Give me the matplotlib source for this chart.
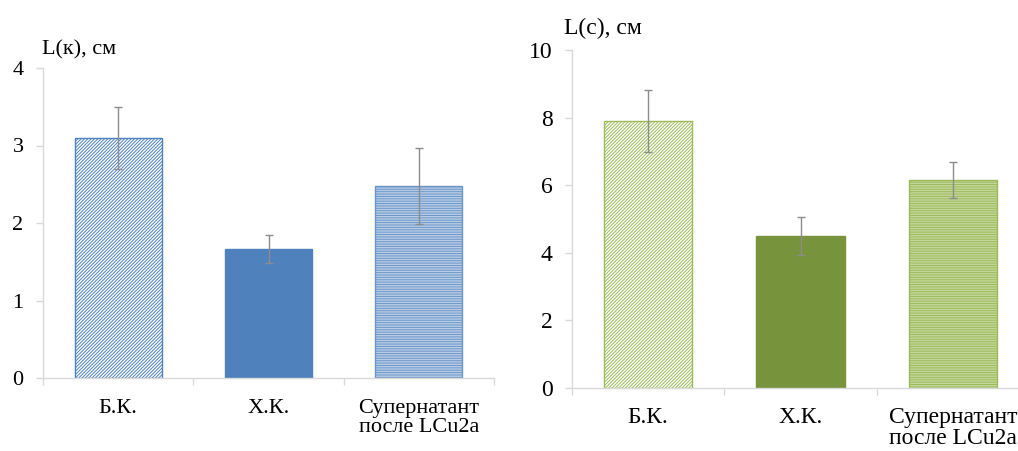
import matplotlib
matplotlib.use("Agg")
import matplotlib.pyplot as plt
import numpy as np

categories = ["Б.К.", "Х.К.", "Супернатант\nпосле LCu2a"]
left_values = [3.1, 1.66, 2.48]
left_errors = [0.40, 0.18, 0.49]
right_values = [7.9, 4.5, 6.15]
right_errors = [0.92, 0.56, 0.53]
left_ticks = [0, 1, 2, 3, 4]
right_ticks = [0, 2, 4, 6, 8, 10]

plt.rcParams['font.family'] = ['Liberation Serif', 'DejaVu Serif']
plt.rcParams['hatch.linewidth'] = 0.7

fig = plt.figure(figsize=(10.18, 4.51), dpi=100)
axL = fig.add_axes([43/1018, 1-378/451, (494-43)/1018, (378-68)/451])
axR = fig.add_axes([572/1018, 1-388/451, (1029-572)/1018, (388-50)/451])

spine_col = "#d9d9d9"

def style(ax, ticks, ymax, fs, pad_x):
    x = np.arange(len(categories))
    ax.set_xlim(-0.5, len(categories) - 0.5)
    ax.set_ylim(0, ymax)
    ax.set_yticks(ticks)
    ax.set_xticks(x)
    ax.set_xticklabels(categories, fontsize=fs, linespacing=1.0)
    ax.set_xticks(np.arange(-0.5, len(categories)), minor=True)
    ax.tick_params(axis='x', which='major', length=0, pad=pad_x)
    ax.tick_params(axis='x', which='minor', length=5, color=spine_col, width=1)
    ax.tick_params(axis='y', length=5, color=spine_col, width=1, labelsize=fs, pad=9)
    for s in ['top', 'right']:
        ax.spines[s].set_visible(False)
    for s in ['left', 'bottom']:
        ax.spines[s].set_color(spine_col)
        ax.spines[s].set_linewidth(1)

# Left chart (blue)
xL = np.arange(len(categories))
styles_L = [
    dict(facecolor="white", edgecolor="#4f81bd", hatch="//////////"),
    dict(facecolor="#4f81bd", edgecolor="#4f81bd", hatch=None),
    dict(facecolor="#b9cde5", edgecolor="#6a95c9", hatch="-------"),
]
for i in range(len(categories)):
    axL.bar(xL[i], left_values[i], width=0.58, linewidth=1, **styles_L[i])
axL.errorbar(xL, left_values, yerr=left_errors, fmt='none', ecolor="#8c8c8c",
             elinewidth=1, capsize=3, capthick=1)
style(axL, left_ticks, 4, 16, 15)
fig.text(42/1018, 1-50/451, "L(к), см", fontsize=16, ha='left', va='center')

# Right chart (green)
styles_R = [
    dict(facecolor="white", edgecolor="#9bbb59", hatch="//////////"),
    dict(facecolor="#77933c", edgecolor="#77933c", hatch=None),
    dict(facecolor="#c3d69b", edgecolor="#9bbb59", hatch="-------"),
]
for i in range(len(categories)):
    axR.bar(xL[i], right_values[i], width=0.58, linewidth=1, **styles_R[i])
axR.errorbar(xL, right_values, yerr=right_errors, fmt='none', ecolor="#8c8c8c",
             elinewidth=1, capsize=3, capthick=1)
style(axR, right_ticks, 10, 17, 14)
fig.text(564/1018, 1-28/451, "L(c), см", fontsize=17, ha='left', va='center')

fig.savefig("out.png", dpi=100)
